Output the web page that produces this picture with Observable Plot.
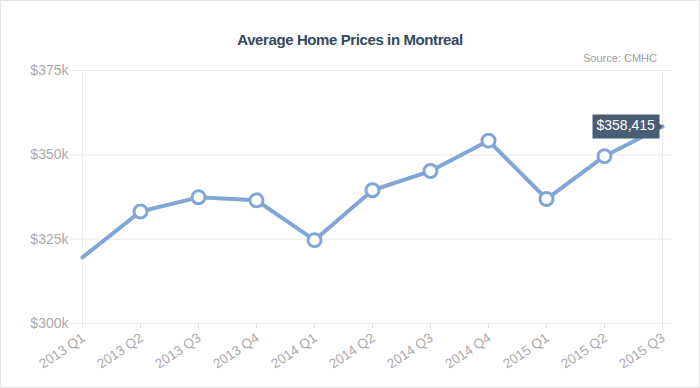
<!DOCTYPE html>
<html>
<head>
<meta charset="utf-8">
<script src="https://cdn.jsdelivr.net/npm/d3@7"></script>
<script src="https://cdn.jsdelivr.net/npm/@observablehq/plot@0.6"></script>
<style>
  html, body { margin: 0; padding: 0; background: #fff; }
  #chart { position: relative; width: 700px; height: 388px; outline: 1px solid #e4e4e4; outline-offset: -1px; font-family: "Liberation Sans", Arial, Helvetica, sans-serif; overflow: hidden; }
  #title { position: absolute; top: 31px; left: 0; width: 700px; text-align: center; font-size: 15px; font-weight: bold; color: #34495e; line-height: 18px; letter-spacing: -0.4px; }
  #source { position: absolute; top: 52px; right: 43px; font-size: 11px; color: #a0a0a0; line-height: 13px; }
  #plot { position: absolute; top: 50px; left: 0; }
  g[aria-label="tip"] text { fill: #fff; }
</style>
</head>
<body>
<div id="chart">
  <div id="title">Average Home Prices in Montreal</div>
  <div id="source">Source: CMHC</div>
  <div id="plot"></div>
</div>
<script>
const quarters = ["2013 Q1","2013 Q2","2013 Q3","2013 Q4","2014 Q1","2014 Q2","2014 Q3","2014 Q4","2015 Q1","2015 Q2","2015 Q3"];
const prices = [319600, 333200, 337400, 336500, 324700, 339500, 345200, 354200, 336900, 349600, 358415];
const yTicks = [300000, 325000, 350000, 375000];
const tipLabel = "$358,415";

const data = quarters.map((q, i) => ({q, v: prices[i], i}));
const last = data[data.length - 1];

const plot = Plot.plot({
  width: 700,
  height: 338,
  marginTop: 20,
  marginBottom: 65,
  marginLeft: 79,
  marginRight: 35,
  style: {fontFamily: "'Liberation Sans', Arial, Helvetica, sans-serif", fontSize: "14px", color: "#aaa", background: "transparent", overflow: "visible"},
  x: {type: "point", domain: quarters, padding: 0, label: null},
  y: {domain: [300000, 375000], label: null},
  marks: [
    Plot.ruleY(yTicks, {stroke: "#e9e9e9", insetLeft: -9, insetRight: -7}),
    Plot.ruleX([quarters[0], quarters[quarters.length - 1]], {stroke: "#ececec"}),
    Plot.axisY({ticks: yTicks, tickSize: 0, tickPadding: 11, tickFormat: d => "$" + d / 1000 + "k", fill: "#aaa", fontSize: 14}),
    Plot.axisX({tickSize: 5, stroke: "#e0e0e0", text: null}),
    Plot.axisX({tickSize: 0, tickRotate: -34, tickPadding: 13, dx: 1, fill: "#aaa", fontSize: 13.5}),
    Plot.line(data, {x: "q", y: "v", stroke: "#80a6d8", strokeWidth: 4, strokeLinejoin: "round"}),
    Plot.dot(data.filter(d => d.i > 0 && d.i < data.length - 1), {x: "q", y: "v", r: 6.5, fill: "#fff", stroke: "#80a6d8", strokeWidth: 3}),
    Plot.tip([last], {x: "q", y: "v", title: () => tipLabel, anchor: "right", fill: "#4b5d73", stroke: "none", pathFilter: "none", fontSize: 14, textPadding: 4, pointerSize: 6})
  ]
});
document.getElementById("plot").appendChild(plot);
</script>
</body>
</html>
